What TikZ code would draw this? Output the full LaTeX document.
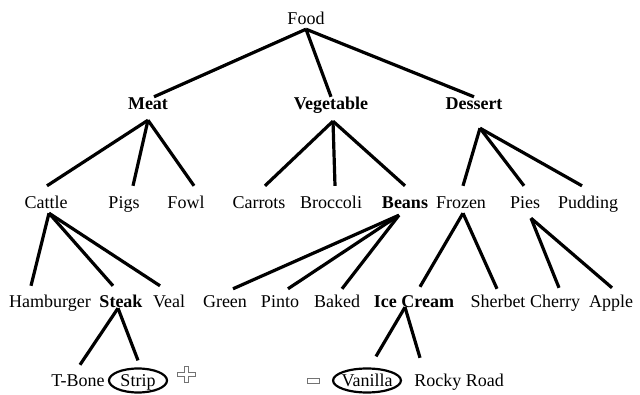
\documentclass[tikz,border=0pt]{standalone}
\usepackage{fontspec}
\setmainfont{Liberation Serif}
\usetikzlibrary{shapes.geometric}

\begin{document}
\begin{tikzpicture}[
    x=1pt, y=-1pt,
    item/.style={
        font=\fontsize{18}{20}\selectfont,
        inner sep=0pt,
        text height=13pt,
        text depth=4pt,
        anchor=base
    },
    group/.style={item, font=\fontsize{18}{20}\selectfont\bfseries},
    picked/.style={
        item,
        ellipse,
        draw=black,
        line width=2.2pt,
        text depth=2pt,
        inner xsep=-1.5pt,
        minimum width=58pt,
        minimum height=24pt
    },
    branch/.style={line width=3.2pt},
    sign/.style={draw=black!55, fill=white, line width=0.9pt}
]

\useasboundingbox (0,0) rectangle (640,395);

% Root
\node[item] (food) at (306,25) {Food};

% Categories
\node[group] (meat) at (148,110) {Meat};
\node[group] (vegetable) at (331,110) {Vegetable};
\node[group] (dessert) at (474,110) {Dessert};

% Third level
\node[item] (cattle) at (46,209) {Cattle};
\node[item] (pigs) at (124,209) {Pigs};
\node[item] (fowl) at (186,209) {Fowl};
\node[item] (carrots) at (259,209) {Carrots};
\node[item] (broccoli) at (331,209) {Broccoli};
\node[group] (beans) at (405,209) {Beans};
\node[item] (frozen) at (461,209) {Frozen};
\node[item] (pies) at (525,209) {Pies};
\node[item] (pudding) at (588,209) {Pudding};

% Fourth level
\node[item] (hamburger) at (50,308) {Hamburger};
\node[group] (steak) at (121,308) {Steak};
\node[item] (veal) at (169,308) {Veal};
\node[item] (green) at (225,308) {Green};
\node[item] (pinto) at (280,308) {Pinto};
\node[item] (baked) at (337,308) {Baked};
\node[group] (icecream) at (414,308) {Ice Cream};
\node[item] (sherbet) at (498,308) {Sherbet};
\node[item] (cherry) at (555,308) {Cherry};
\node[item] (apple) at (611,308) {Apple};

% Leaves
\node[item] (tbone) at (78,386) {T-Bone};
\node[picked] (strip) at (138,386) {Strip};
\node[picked] (vanilla) at (367,386) {Vanilla};
\node[item] (rocky) at (459,386) {Rocky Road};

% Plus and minus marks
\draw[sign] (177,372) -- (184,372) -- (184,366) -- (188,366) -- (188,372) -- (195,372)
    -- (195,376) -- (188,376) -- (188,382) -- (184,382) -- (184,376) -- (177,376) -- cycle;
\draw[sign] (307,378) rectangle (319,383);

% Food branches
\draw[branch] (food.south) -- ([xshift=6pt]meat.north);
\draw[branch] (food.south) -- (vegetable.north);
\draw[branch] (food.south) -- (dessert.north);

% Meat branches
\draw[branch] ([yshift=-6pt]meat.south) -- ([xshift=1pt,yshift=10pt]cattle.north);
\draw[branch] ([yshift=-6pt]meat.south) -- ([xshift=9pt,yshift=10pt]pigs.north);
\draw[branch] ([yshift=-6pt]meat.south) -- ([xshift=8pt,yshift=10pt]fowl.north);

% Vegetable branches
\draw[branch] ([xshift=2pt,yshift=-7pt]vegetable.south) -- ([xshift=6pt,yshift=10pt]carrots.north);
\draw[branch] ([xshift=2pt,yshift=-7pt]vegetable.south) -- ([xshift=4pt,yshift=10pt]broccoli.north);
\draw[branch] ([xshift=2pt,yshift=-7pt]vegetable.south) -- ([yshift=10pt]beans.north);

% Dessert branches
\draw[branch] ([xshift=6pt,yshift=-14pt]dessert.south) -- ([xshift=2pt,yshift=10pt]frozen.north);
\draw[branch] ([xshift=6pt,yshift=-14pt]dessert.south) -- ([xshift=-1pt,yshift=10pt]pies.north);
\draw[branch] ([xshift=6pt,yshift=-14pt]dessert.south) -- ([xshift=-6pt,yshift=10pt]pudding.north);

% Cattle branches
\draw[branch] ([xshift=3pt]cattle.south) -- ([xshift=-19pt,yshift=9pt]hamburger.north);
\draw[branch] ([xshift=3pt]cattle.south) -- ([xshift=-8pt,yshift=9pt]steak.north);
\draw[branch] ([xshift=3pt]cattle.south) -- ([xshift=-9pt,yshift=9pt]veal.north);

% Beans branches
\draw[branch] ([xshift=-6pt,yshift=-2pt]beans.south) -- ([xshift=8pt,yshift=6pt]green.north);
\draw[branch] ([xshift=-6pt,yshift=-2pt]beans.south) -- ([xshift=8pt,yshift=6pt]pinto.north);
\draw[branch] ([xshift=-6pt,yshift=-2pt]beans.south) -- ([xshift=5pt,yshift=6pt]baked.north);

% Frozen branches
\draw[branch] ([xshift=2pt]frozen.south) -- ([xshift=6pt,yshift=8pt]icecream.north);
\draw[branch] ([xshift=2pt]frozen.south) -- ([xshift=-1pt,yshift=6pt]sherbet.north);

% Pies branches
\draw[branch] ([xshift=6pt,yshift=-5pt]pies.south) -- ([xshift=4pt,yshift=7pt]cherry.north);
\draw[branch] ([xshift=6pt,yshift=-5pt]pies.south) -- ([xshift=1pt,yshift=7pt]apple.north);

% Steak branches
\draw[branch] ([xshift=-3pt,yshift=4pt]steak.south) -- ([xshift=2pt,yshift=8pt]tbone.north);
\draw[branch] ([xshift=-3pt,yshift=4pt]steak.south) -- ([yshift=7pt]strip.north);

% Ice Cream branches
\draw[branch] ([xshift=-9pt,yshift=5pt]icecream.south) -- ([xshift=9pt,yshift=11pt]vanilla.north);
\draw[branch] ([xshift=-9pt,yshift=5pt]icecream.south) -- ([xshift=-39pt,yshift=15pt]rocky.north);

\end{tikzpicture}
\end{document}
